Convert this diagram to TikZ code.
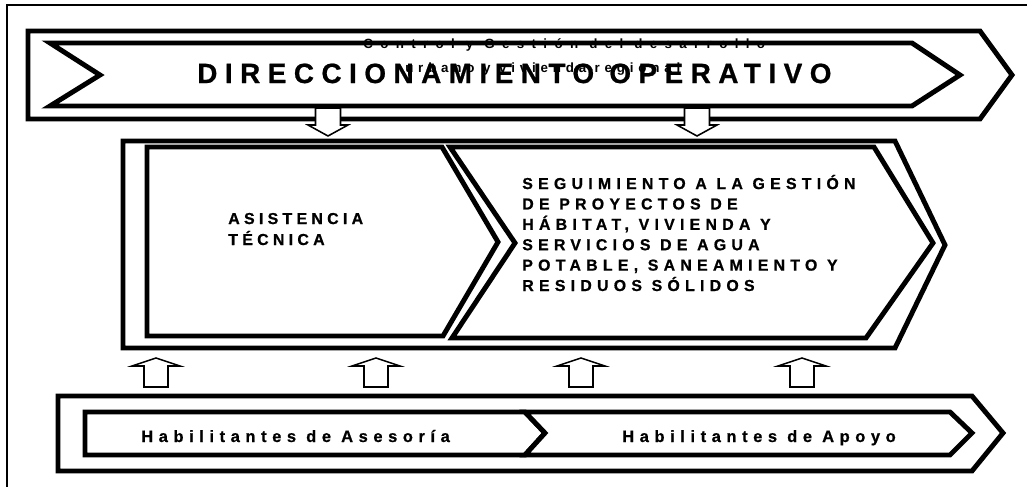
\documentclass[tikz,border=0pt]{standalone}
\usepackage{fontspec}
\setmainfont{Liberation Sans}
% Familias en negrita con espaciado entre letras
\newfontfamily\fontcontrol{Liberation Sans Bold}[LetterSpace=55]
\newfontfamily\fonturbano{Liberation Sans Bold}[LetterSpace=36]
\newfontfamily\fonttitulo{Liberation Sans Bold}[LetterSpace=27,FakeBold=0.8]
\newfontfamily\fontasist{Liberation Sans Bold}[LetterSpace=27,FakeBold=0.8]
\newfontfamily\fontproceso{Liberation Sans Bold}[LetterSpace=33,FakeBold=0.8]
\newfontfamily\fonthabil{Liberation Sans Bold}[LetterSpace=34,FakeBold=0.8]
\begin{document}
\begin{tikzpicture}[
    x=0.025cm, y=-0.025cm,
    banner/.style={draw, line width=3.5pt, fill=white, line join=miter}, % Cintas y chevrones
    blockarrow/.style={draw, line width=1.1pt, fill=white, line join=miter}, % Flechas huecas
    lettered/.style n args={3}{inner sep=0pt, anchor=base west, align=left,
        font={#3\fontsize{#1}{#2}\selectfont}}
]
\useasboundingbox (0,0) rectangle (1027,487);
\draw[line width=0.8pt] (1027,5) -- (7,5) -- (7,487);

% Direccionamiento
\draw[banner] (28,31) -- (980,31) -- (1012,75) -- (980,119) -- (28,119) -- cycle;
\draw[banner] (50,43) -- (912,43) -- (960,75) -- (912,106) -- (50,106) -- (100,75) -- cycle;
\node[lettered={9.5}{10}{\fontcontrol}] (control) at (363,48) {Control y Gestión del desarrollo};
\node[lettered={9.5}{10}{\fonturbano}] (urbano) at (405,72) {urbano y vivienda regional};
\node[lettered={19.8}{20}{\fonttitulo}] (direccion) at (197,83) {DIRECCIONAMIENTO OPERATIVO};

% Procesos (anclados en la base de la ultima linea)
\draw[banner] (123,141) -- (895,141) -- (945,245) -- (895,348) -- (123,348) -- cycle;
\draw[banner] (147,147) -- (442,147) -- (498,242) -- (443,336) -- (147,336) -- cycle;
\draw[banner] (450,147) -- (874,147) -- (933,243) -- (866,338) -- (452,338) -- (515,243) -- cycle;
\node[lettered={11.3}{14.9}{\fontasist}] (asistencia) at (228,245) {ASISTENCIA\\TÉCNICA};
\node[lettered={11.3}{14.5}{\fontproceso}] (seguimiento) at (522,291)
    {SEGUIMIENTO A LA GESTIÓN\\DE PROYECTOS DE\\HÁBITAT, VIVIENDA Y\\SERVICIOS DE AGUA\\POTABLE, SANEAMIENTO Y\\RESIDUOS SÓLIDOS};

% Habilitantes
\draw[banner] (58,396) -- (972,396) -- (1003,433) -- (972,471) -- (58,471) -- cycle;
\draw[banner] (85,412) -- (525,412) -- (545,433) -- (525,455) -- (85,455) -- cycle;
\draw[banner] (525,412) -- (950,412) -- (972,433) -- (950,455) -- (525,455) -- (545,433) -- cycle;
\node[lettered={11.7}{12}{\fonthabil}] (asesoria) at (141,442) {Habilitantes de Asesoría};
\node[lettered={11.7}{12}{\fonthabil}] (apoyo) at (622,442) {Habilitantes de Apoyo};

% Flechas
\foreach \ax in {328,697}
    \draw[blockarrow] ({\ax-12.5},108) -- ({\ax+12.5},108) -- ({\ax+12.5},125) -- ({\ax+20},125)
        -- (\ax,136) -- ({\ax-20},125) -- ({\ax-12.5},125) -- cycle;
\foreach \ax in {156,376,581,802}
    \draw[blockarrow] ({\ax-12},387) -- ({\ax-12},366) -- ({\ax-24},366) -- (\ax,358)
        -- ({\ax+24},366) -- ({\ax+12},366) -- ({\ax+12},387) -- cycle;
\end{tikzpicture}
\end{document}
